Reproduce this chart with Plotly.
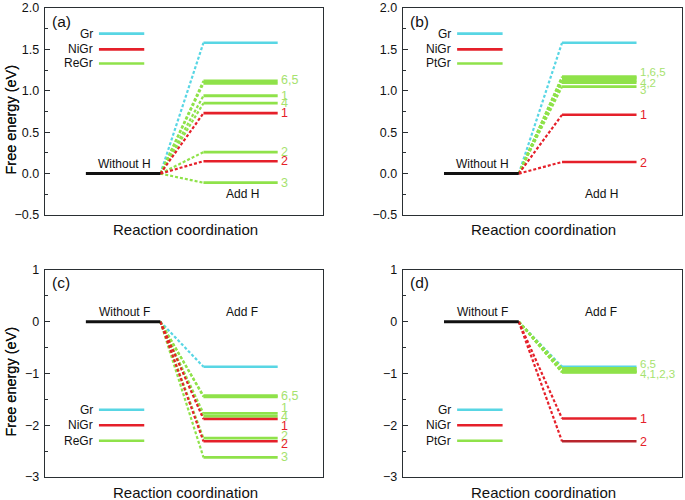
import plotly.graph_objects as go

W, H = 685, 500

# ---------------- data ----------------
# Free energies (eV) of the "Add" state, per adsorption site (sites 1..6 for ReGr/PtGr, 1..2 for NiGr)
a_gr = [1.58]
a_ni = [0.73, 0.15]
a_re = [0.94, 0.26, -0.11, 0.85, 1.09, 1.12]

b_gr = [1.58]
b_ni = [0.71, 0.14]
b_pt = [1.17, 1.10, 1.05, 1.12, 1.14, 1.16]

c_gr = [-0.87]
c_ni = [-1.88, -2.31]
c_re = [-1.77, -2.25, -2.62, -1.83, -1.45, -1.43]

d_gr = [-0.87]
d_ni = [-1.87, -2.31]
d_pt = [-0.96, -0.97, -0.98, -0.95, -0.91, -0.90]

# site groups used for the right-hand labels: (label text, site numbers)
a_re_labels = [("6,5", [6, 5]), ("1", [1]), ("4", [4]), ("2", [2]), ("3", [3])]
b_pt_labels = [("1,6,5", [1, 6, 5]), ("4,2", [4, 2]), ("3", [3])]
c_re_labels = [("6,5", [6, 5]), ("1", [1]), ("4", [4]), ("2", [2]), ("3", [3])]
d_pt_labels = [("6,5", [6, 5]), ("4,1,2,3", [4, 1, 2, 3])]
ni_labels = [("1", [1]), ("2", [2])]

y_ticks_h = [-0.5, 0.0, 0.5, 1.0, 1.5, 2.0]
y_ticks_f = [-3, -2, -1, 0, 1]

# ---------------- styling ----------------
C_GR = "#58d6e4"
C_NI = "#e5202a"
C_NI_DARK = "#b8252d"
C_M = "#8fe24a"
C_LBL_M = "#a6e26e"
C_AX = "#2a2f33"
FONT = "Liberation Sans, Arial, sans-serif"

X_WO = [1.47, 4.15]
X_ADD = [5.70, 8.37]
X_LBL = 8.42

# panel domains in pixels (left, right, top, bottom)
panels = {
    "a": dict(px=(45, 323, 8, 215), yr=[-0.5, 2.0], ticks=y_ticks_h, fmt=".1f", minor=0.25),
    "b": dict(px=(403, 682, 8, 215), yr=[-0.5, 2.0], ticks=y_ticks_h, fmt=".1f", minor=0.25),
    "c": dict(px=(45, 323, 270, 477), yr=[-3, 1], ticks=y_ticks_f, fmt="d", minor=0.5),
    "d": dict(px=(403, 682, 270, 477), yr=[-3, 1], ticks=y_ticks_f, fmt="d", minor=0.5),
}

fig = go.Figure()
layout = dict(
    width=W, height=H, autosize=False,
    margin=dict(l=0, r=0, t=0, b=0, pad=0, autoexpand=False),
    paper_bgcolor="white", plot_bgcolor="white", showlegend=False,
    font=dict(family=FONT, color="#111", size=12),
)
annotations = []

for i, (key, p) in enumerate(panels.items()):
    n = "" if i == 0 else str(i + 1)
    xa, ya = "xaxis" + n, "yaxis" + n
    xr, yr_ = "x" + n, "y" + n
    l, r, t, b = p["px"]
    layout[xa] = dict(domain=[l / W, r / W], range=[0, 10], showticklabels=False,
                      ticks="", showgrid=False, zeroline=False, showline=True,
                      linecolor=C_AX, linewidth=1.3, mirror=True, anchor=yr_,
                      fixedrange=True, automargin=False)
    layout[ya] = dict(domain=[1 - b / H, 1 - t / H], range=p["yr"], tickvals=p["ticks"],
                      tickformat=p["fmt"], ticks="inside", ticklen=5, tickwidth=1.2,
                      tickcolor=C_AX, showgrid=False, zeroline=False, showline=True,
                      linecolor=C_AX, linewidth=1.3, mirror=True, anchor=xr,
                      tickfont=dict(size=12.5, color="#111", family=FONT),
                      ticklabelstandoff=2, automargin=False,
                      minor=dict(dtick=p["minor"], ticks="inside", ticklen=3,
                                 tickcolor=C_AX, tickwidth=1.0),
                      fixedrange=True)
    # axis titles
    annotations.append(dict(xref="paper", yref="paper", x=10 / W, y=1 - ((t + b) / 2 + 8) / H,
                            xanchor="center", yanchor="middle",
                            text="Free energy (eV)", textangle=-90, showarrow=False,
                            font=dict(size=14.5, family=FONT, color="#111")))
    annotations.append(dict(xref="paper", yref="paper", x=((l + r) / 2 + 1) / W, y=1 - (b + 15) / H,
                            xanchor="center", yanchor="middle",
                            text="Reaction coordination", showarrow=False,
                            font=dict(size=15, family=FONT, color="#111")))

def line(xr, yr_, xs, ys, color, width=2.6, dash=None):
    fig.add_trace(go.Scatter(x=xs, y=ys, mode="lines", xaxis=xr, yaxis=yr_,
                             line=dict(color=color, width=width, dash=dash),
                             hoverinfo="skip"))

def panel(idx, letter, state, gr, ni, m, m_name, m_labels, nudges_m, nudges_ni,
          leg_y, wo_lbl_y, add_lbl_y, tag_y, ni2_color=C_NI, lbl_size=12):
    n = "" if idx == 0 else str(idx + 1)
    xr, yr_ = "x" + n, "y" + n
    # connectors
    for v in gr:
        line(xr, yr_, [X_WO[1], X_ADD[0]], [0, v], C_GR, 2.2, "3px,2px")
    for v in m:
        line(xr, yr_, [X_WO[1], X_ADD[0]], [0, v], C_M, 2.2, "3px,2px")
    for v in ni:
        line(xr, yr_, [X_WO[1], X_ADD[0]], [0, v], C_NI, 2.2, "3px,2px")
    # levels
    line(xr, yr_, X_WO, [0, 0], "#111", 3)
    for v in gr:
        line(xr, yr_, X_ADD, [v, v], C_GR, 2.6)
    for v in m:
        line(xr, yr_, X_ADD, [v, v], C_M, 2.8)
    for k, v in enumerate(ni):
        line(xr, yr_, X_ADD, [v, v], C_NI if k == 0 else ni2_color, 2.6)
    # right-hand labels
    for (txt, s), dy in zip(m_labels, nudges_m):
        yv = sum(m[j - 1] for j in s) / len(s) + dy
        annotations.append(dict(xref=xr, yref=yr_, x=X_LBL, y=yv, text=txt, showarrow=False,
                                xanchor="left", yanchor="middle",
                                font=dict(size=lbl_size, color=C_LBL_M, family=FONT)))
    for (txt, s), dy in zip(ni_labels, nudges_ni):
        yv = sum(ni[j - 1] for j in s) / len(s) + dy
        annotations.append(dict(xref=xr, yref=yr_, x=X_LBL, y=yv, text=txt, showarrow=False,
                                xanchor="left", yanchor="middle",
                                font=dict(size=12.5, color=C_NI, family=FONT)))
    # legend (text left of a short line)
    for name, col, yv in zip(["Gr", "NiGr", m_name], [C_GR, C_NI, C_M], leg_y):
        line(xr, yr_, [1.94, 3.57], [yv, yv], col, 2.6)
        annotations.append(dict(xref=xr, yref=yr_, x=1.80, y=yv, text=name, showarrow=False,
                                xanchor="right", yanchor="middle",
                                font=dict(size=12, color="#111", family=FONT)))
    # state labels
    annotations.append(dict(xref=xr, yref=yr_, x=2.85, y=wo_lbl_y, text="Without " + state,
                            showarrow=False, font=dict(size=12, color="#111", family=FONT)))
    annotations.append(dict(xref=xr, yref=yr_, x=7.1, y=add_lbl_y, text="Add " + state,
                            showarrow=False, font=dict(size=12, color="#111", family=FONT)))
    annotations.append(dict(xref=xr, yref=yr_, x=0.17, y=tag_y, text="(" + letter + ")",
                            showarrow=False, xanchor="left",
                            font=dict(size=15.5, color="#111", family=FONT)))

panel(0, "a", "H", a_gr, a_ni, a_re, "ReGr", a_re_labels,
      [0.02, 0, 0, 0, 0], [0, 0], [1.69, 1.50, 1.33], 0.12, -0.25, 1.84, lbl_size=12.5)
panel(1, "b", "H", b_gr, b_ni, b_pt, "PtGr", b_pt_labels,
      [0.07, -0.01, -0.04], [0, -0.01], [1.69, 1.50, 1.33], 0.12, -0.25, 1.84, lbl_size=11.5)
panel(2, "c", "F", c_gr, c_ni, c_re, "ReGr", c_re_labels,
      [0.0, 0.11, -0.01, 0.04, 0.0], [-0.13, -0.05], [-1.7, -2.0, -2.3], 0.19, 0.19, 0.75,
      lbl_size=12.5)
panel(3, "d", "F", d_gr, d_ni, d_pt, "PtGr", d_pt_labels,
      [0.09, -0.05], [0, -0.01], [-1.7, -2.0, -2.3], 0.19, 0.19, 0.75,
      ni2_color=C_NI_DARK, lbl_size=11.5)

layout["annotations"] = annotations
fig.update_layout(**layout)
fig.write_html("out.html", config={"displayModeBar": False, "staticPlot": True},
               post_script="document.body.style.margin='0px';document.body.style.overflow='hidden';")
